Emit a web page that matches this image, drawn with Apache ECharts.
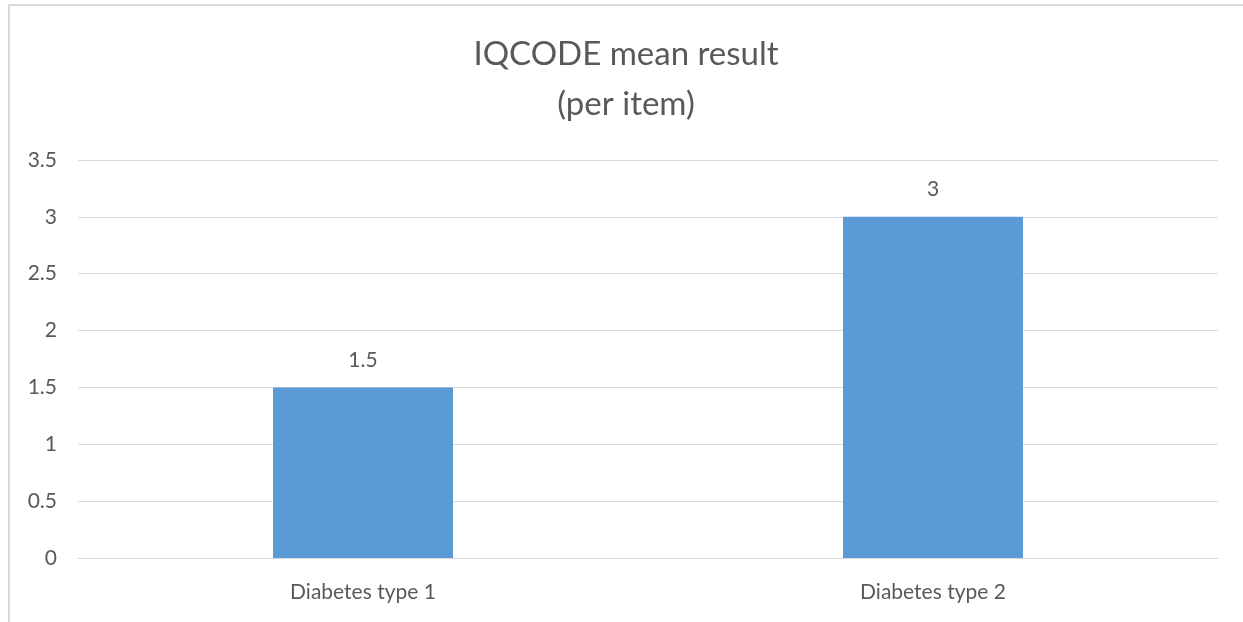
<!DOCTYPE html>
<html>
<head>
<meta charset="utf-8">
<script src="https://cdn.jsdelivr.net/npm/echarts@6/dist/echarts.min.js"></script>
<style>
html,body{margin:0;padding:0;background:#fff;}
#frame{position:absolute;left:8px;top:4px;width:1240px;height:625px;border-left:2px solid #d9d9d9;border-top:2px solid #d9d9d9;box-sizing:border-box;}
#chart{position:absolute;left:0;top:0;width:1243px;height:622px;}
</style>
</head>
<body>
<div id="frame"></div>
<div id="chart"></div>
<script>
const titleText = 'IQCODE mean result\n(per item)';
const categories = ['Diabetes type 1', 'Diabetes type 2'];
const values = [1.5, 3];
const yTicks = {min: 0, max: 3.5, interval: 0.5};

const chart = echarts.init(document.getElementById('chart'), null, {renderer: 'canvas'});
const textColor = '#595959';
const fontFamily = 'Lato, "Open Sans", sans-serif';
chart.setOption({
  backgroundColor: 'transparent',
  animation: false,
  title: {
    text: titleText,
    left: 621,
    textAlign: 'center',
    top: 24,
    textStyle: {color: textColor, fontSize: 33, fontWeight: 'normal', fontFamily: fontFamily, lineHeight: 50}
  },
  grid: {left: 78, right: 25, top: 160, bottom: 64, containLabel: false},
  xAxis: {
    type: 'category',
    data: categories,
    axisLine: {show: true, lineStyle: {color: '#d9d9d9', width: 1}},
    axisTick: {show: false},
    axisLabel: {color: textColor, fontSize: 21, fontFamily: fontFamily, margin: 24}
  },
  yAxis: {
    type: 'value',
    min: yTicks.min,
    max: yTicks.max,
    interval: yTicks.interval,
    axisLine: {show: false},
    axisTick: {show: false},
    splitLine: {lineStyle: {color: '#d9d9d9', width: 1}},
    axisLabel: {color: textColor, fontSize: 21, fontFamily: fontFamily, margin: 21}
  },
  series: [{
    type: 'bar',
    data: values,
    barWidth: 180,
    itemStyle: {color: '#5b9bd5'},
    label: {show: true, position: 'top', distance: 17, color: textColor, fontSize: 21, fontFamily: fontFamily}
  }]
});
</script>
</body>
</html>
